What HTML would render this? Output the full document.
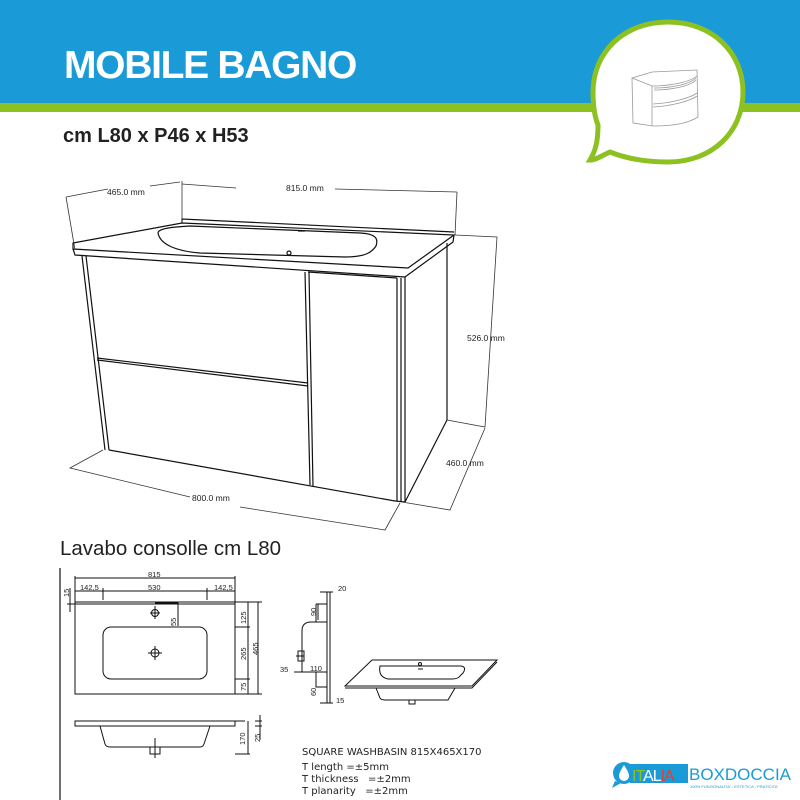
<!DOCTYPE html>
<html><head><meta charset="utf-8"><style>
html,body{margin:0;padding:0;background:#fff;}
svg{display:block}
</style></head><body>
<svg width="800" height="800" viewBox="0 0 800 800" xmlns="http://www.w3.org/2000/svg" font-family="Liberation Sans, sans-serif">
<rect x="0" y="0" width="800" height="104" fill="#1a9bd7"/>
<rect x="0" y="103" width="800" height="9" fill="#8dc021"/>
<text x="64" y="78" font-size="39" font-weight="bold" fill="#fff" letter-spacing="-1.3">MOBILE BAGNO</text>
<!-- bubble -->
<path d="M668,22 C712,22 743,52 743,92 C743,132 712,162 668,162 C645,162 625,158 610,152 C603,155 596,160 590,160 C596,150 598,140 598,125 C594,115 593,103 593,92 C593,52 624,22 668,22 Z" fill="#fff" stroke="#8dc021" stroke-width="5"/>
<g fill="none" stroke="#999" stroke-width="0.8">
<path d="M632,78 L652,72 L697,70 L698,117 C690,122 678,126 653,126 L633,123 Z"/>
<path d="M652,86 L652,126 M632,78 L652,86 C670,86 690,82 697,76"/>
<path d="M654,88 C672,88 690,84 696,78 M654,90 C672,90 690,86 696,80"/>
<path d="M653,104 C672,103 690,98 697,93 M653,107 C672,106 690,101 697,96"/>
</g>
<text x="63" y="142" font-size="20" font-weight="bold" fill="#222">cm L80 x P46 x H53</text>
<!-- cabinet -->
<g fill="none" stroke="#111" stroke-width="1.2" font-size="8.5" >
<path d="M73,243 L182,223 L454,235 L408,268 L73,249 Z" fill="#fff"/>
<path d="M73,249 L75,255 L405,277 L453,242 L454,235"/>
<path d="M182,223 L182,219 L454,232"/>
<path d="M158,233 C158,229 170,227 190,226 L360,233 C378,234 378,240 376,246 C372,252 366,257 345,257 L200,253 C175,251 160,244 158,233 Z"/>
<circle cx="289" cy="253" r="2"/>
<path d="M298,231 L305,231"/>
<path d="M82,256 L105,450 M86,256 L109,450 M109,450 L395,501"/>
<path d="M97,358 L308,383 M97,360 L308,386"/>
<path d="M305,272 L310,485 M309,272 L313,487"/>
<path d="M308,272 L397,278 M397,278 L397,501 M401,278 L401,501 M405,277 L405,502 M405,502 L447,420 M447,243 L447,420"/>
<path d="M395,501 L405,502"/>
</g>
<g fill="none" stroke="#333" stroke-width="0.8">
<path d="M66,197 L75,250 M66,197 L108,189 M150,186 L180,182 M182,181 L182,223"/>
<path d="M182,184 L236,188 M335,189 L457,192 M457,192 L455,235"/>
<path d="M455,235 L497,237 L485,427 L447,420"/>
<path d="M485,428 L450,510 L402,502"/>
<path d="M103,450 L70,468 L190,497 M240,507 L385,530 L400,503"/>
</g>
<g font-size="8.5" fill="#222">
<text x="107" y="195">465.0 mm</text>
<text x="286" y="191">815.0 mm</text>
<text x="467" y="341">526.0 mm</text>
<text x="446" y="466">460.0 mm</text>
<text x="192" y="501">800.0 mm</text>
</g>
<text x="60" y="555" font-size="20.5" fill="#222">Lavabo consolle cm L80</text>
<line x1="60" y1="568" x2="60" y2="800" stroke="#111" stroke-width="1.2"/>
<!-- top view -->
<g fill="none" stroke="#111" stroke-width="1">
<rect x="75" y="602" width="160" height="92"/>
<line x1="68" y1="604" x2="235" y2="604"/>
<rect x="103" y="627" width="104" height="52" rx="8"/>
<circle cx="155" cy="613" r="3.5"/><circle cx="155" cy="653" r="4"/>
<path d="M148,653 L162,653 M155,646 L155,660 M150,613 L160,613 M155,606 L155,619 M155,603 L178,603 L178,626"/>
<path d="M75,576 L75,604 M235,576 L235,604 M75,578 L235,578 M75,591 L103,591 M103,588 L103,600 M207,588 L207,600 M103,591 L207,591 M207,591 L235,591 M70,588 L70,612 M67,604 L72,604"/>
<path d="M235,602 L262,602 M235,694 L262,694 M258,602 L258,694 M235,627 L250,627 M235,679 L250,679 M248,602 L248,694"/>
<rect x="75" y="721" width="160" height="5"/>
<path d="M100,726 L105,744 Q106,747 110,747 L200,747 Q203,747 204,744 L210,726"/>
<rect x="150" y="747" width="10" height="7"/><line x1="155" y1="738" x2="155" y2="758"/>
<path d="M235,721 L245,721 M235,754 L250,754 M248,721 L248,754 M260,715 L260,740 M255,721 L262,721 M255,726 L262,726"/>
</g>
<g font-size="7.5" fill="#222">
<text x="148" y="577">815</text>
<text x="80" y="590">142,5</text><text x="148" y="590">530</text><text x="214" y="590">142,5</text>
<text transform="translate(69,597) rotate(-90)">15</text>
<text transform="translate(176,626) rotate(-90)">55</text>
<text transform="translate(246,624) rotate(-90)">125</text>
<text transform="translate(246,660) rotate(-90)">265</text>
<text transform="translate(246,691) rotate(-90)">75</text>
<text transform="translate(258,655) rotate(-90)">465</text>
<text transform="translate(245,745) rotate(-90)">170</text>
<text transform="translate(260,742) rotate(-90)">25</text>
</g>
<!-- side profile -->
<g fill="none" stroke="#111" stroke-width="1">
<path d="M327,592 L327,703 M330,592 L330,703 M320,592 L333,592 M320,703 L333,703"/>
<path d="M316,604 L327,604 M316,604 L316,622 M302,631 Q302,622 311,622 L327,622 M302,631 L302,672 L327,672 M316,672 L316,687 L327,687"/>
<rect x="298" y="651" width="6" height="10"/>
<path d="M296,656 L304,656 M294,672 L302,672 M313,672 L327,672 M318,604 L318,620"/>
</g>
<g font-size="7.5" fill="#222">
<text x="338" y="591">20</text><text x="336" y="703">15</text>
<text x="280" y="672">35</text><text x="310" y="671">110</text>
<text transform="translate(316,616) rotate(-90)">90</text>
<text transform="translate(316,696) rotate(-90)">60</text>
</g>
<!-- perspective basin -->
<g fill="none" stroke="#111" stroke-width="1">
<path d="M345,686 L372,660 L497,660 L472,686 Z M345,688 L472,688 L497,662"/>
<path d="M380,666 L461,666 Q467,667 463,673 L460,676 Q458,679 452,679 L388,679 Q378,677 380,666 Z"/>
<path d="M376,688 L380,698 Q381,700 386,700 L448,700 L455,688"/>
<rect x="409" y="700" width="6" height="4"/>
<circle cx="420" cy="664" r="1.5"/><line x1="418" y1="669" x2="423" y2="669"/>
</g>
<g font-family="DejaVu Sans, sans-serif" font-size="10" fill="#222">
<text x="302" y="755">SQUARE WASHBASIN 815X465X170</text>
<text x="302" y="770">T length =±5mm</text>
<text x="302" y="782">T thickness &#160;&#160;=±2mm</text>
<text x="302" y="794">T planarity &#160;&#160;=±2mm</text>
</g>
<!-- logo -->
<circle cx="624" cy="773" r="11" fill="#1a9bd7"/>
<path d="M615,781 L612,788 L621,783 Z" fill="#1a9bd7"/>
<path d="M624,765 C620,771 619,774 619,776 A5,5 0 0 0 629,776 C629,774 628,771 624,765 Z" fill="#fff"/>
<rect x="630" y="764" width="58" height="19" fill="#1a9bd7"/>
<text x="632" y="781" font-size="16" fill="#fff" letter-spacing="-1"><tspan fill="#8dc021">IT</tspan>AL<tspan fill="#e53c2e">IA</tspan></text>
<text x="689" y="780" font-size="17" fill="#1a9bd7">BOXDOCCIA</text>
<text x="690" y="788" font-size="4" fill="#1a9bd7">100% FUNZIONALITA' - ESTETICA - PRATICITA'</text>
</svg>
</body></html>
